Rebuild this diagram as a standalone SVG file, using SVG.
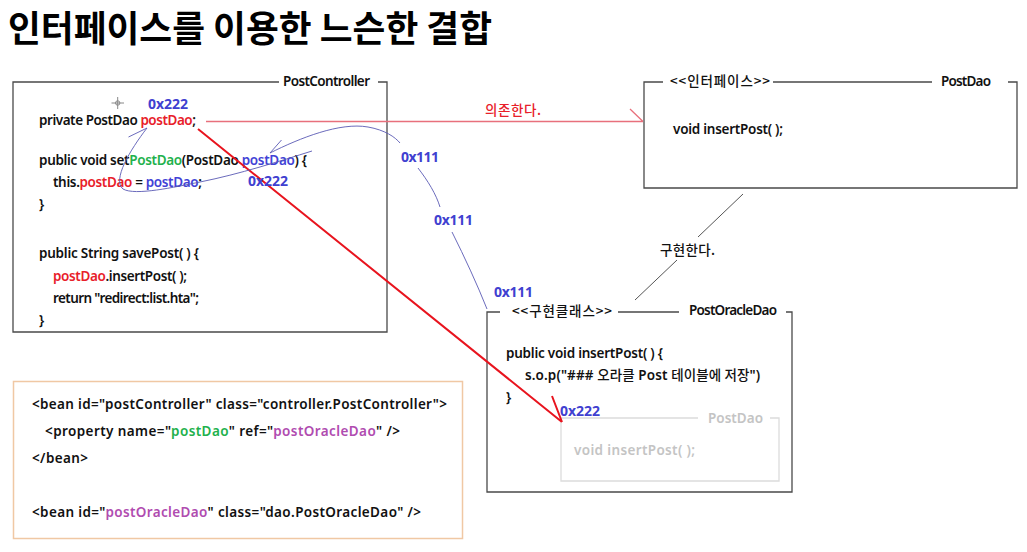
<svg xmlns="http://www.w3.org/2000/svg" width="1027" height="552" viewBox="0 0 1027 552">
<style>
  text { font-family: "Noto Sans", "Liberation Sans", "Noto Sans CJK KR", sans-serif; font-size: 13.5px; fill: #111; font-weight: 600; }
  .ko { font-family: "Noto Sans CJK KR", "Noto Sans", sans-serif; font-weight: 500; }
  .title { font-family: "Noto Sans CJK KR", sans-serif; font-size: 36px; font-weight: 700; fill: #000; }
  .red { fill: #e8202a; }
  .grn { fill: #22b14c; }
  .blu { fill: #4242d6; }
  .pur { fill: #b04cb0; }
  .lbl { fill: #4040d0; font-weight: 700; font-size: 14px; }
  .frame { fill: none; stroke: #4a4a4a; stroke-width: 1.3; }
  .ghost { fill: none; stroke: #dcdcdc; stroke-width: 1.3; }
  .gtext { fill: #c4c4c4; }
  .blue-curve { fill: none; stroke: #5a5ab4; stroke-width: 0.9; }
  .dep { fill: none; stroke: #e8707c; stroke-width: 1.3; }
  .inj { fill: none; stroke: #e8141e; stroke-width: 2; }
  .impl { fill: none; stroke: #555; stroke-width: 1; }
</style>

<g id="title">
  <text class="title" x="8" y="42" textLength="484" lengthAdjust="spacingAndGlyphs">인터페이스를 이용한 느슨한 결합</text>
</g>

<g id="node-postController">
  <path class="frame" d="M279,82 H13 V332 H387 V82 H378"/>
  <text x="283" y="86" textLength="87">PostController</text>
  <text x="39" y="125" textLength="157">private PostDao <tspan class="red">postDao</tspan>;</text>
  <text x="39" y="165" textLength="268">public void set<tspan class="grn">PostDao</tspan>(PostDao <tspan class="blu">postDao</tspan>) {</text>
  <text x="53" y="187" textLength="149"><tspan>this.</tspan><tspan class="red">postDao</tspan> = <tspan class="blu">postDao</tspan>;</text>
  <text x="39" y="209">}</text>
  <text x="39" y="258" textLength="160">public String savePost( ) {</text>
  <text x="53" y="281" textLength="134"><tspan class="red">postDao</tspan>.insertPost( );</text>
  <text x="53" y="303" textLength="146">return "redirect:list.hta";</text>
  <text x="39" y="325">}</text>
</g>

<g id="cursor">
  <path d="M111.5,103 H124 M117.7,97 V109" stroke="#888" stroke-width="1" fill="none"/>
  <circle cx="117.7" cy="103" r="2.2" fill="none" stroke="#888" stroke-width="1"/>
</g>

<g id="node-postDao">
  <path class="frame" d="M663,82 H644 V188 H1017 V82 H1008 M773,82 H932"/>
  <text class="ko" x="670" y="86" font-size="12.5" textLength="100">&lt;&lt;인터페이스&gt;&gt;</text>
  <text x="941" y="86" textLength="50">PostDao</text>
  <text x="673" y="134" textLength="110">void insertPost( );</text>
</g>

<g id="node-postOracleDao">
  <path class="frame" d="M500,312 H487 V492 H792 V312 H786 M618,312 H679"/>
  <text class="ko" x="512" y="316" font-size="12.5" textLength="100">&lt;&lt;구현클래스&gt;&gt;</text>
  <text x="689" y="315" textLength="88">PostOracleDao</text>
  <text x="506" y="358" textLength="157">public void insertPost( ) {</text>
  <text x="525" y="380" textLength="235">s.o.p("### <tspan class="ko">오라클</tspan> Post <tspan class="ko">테이블에 저장</tspan>")</text>
  <text x="506" y="402">}</text>
</g>

<g id="node-ghostPostDao">
  <path class="ghost" d="M698,418 H561 V481 H779 V418 H770"/>
  <text class="gtext" x="708" y="423" font-size="15" textLength="55">PostDao</text>
  <text class="gtext" x="574" y="455" font-size="14.5" textLength="121">void insertPost( );</text>
</g>

<g id="node-beans">
  <rect x="13.5" y="381.5" width="449" height="157" fill="none" stroke="#f0c8a4" stroke-width="1.5"/>
  <text x="32" y="409" textLength="415">&lt;bean id="postController" class="controller.PostController"&gt;</text>
  <text x="45" y="436" textLength="355">&lt;property name="<tspan class="grn">postDao</tspan>" ref="<tspan class="pur">postOracleDao</tspan>" /&gt;</text>
  <text x="32" y="463" textLength="56">&lt;/bean&gt;</text>
  <text x="32" y="517" textLength="389">&lt;bean id="<tspan class="pur">postOracleDao</tspan>" class="dao.PostOracleDao" /&gt;</text>
</g>

<g id="connectors">
  <path class="dep" d="M206,121.5 H643 M630,109 L643,121.5"/>
  <path class="impl" d="M743,194 L698,237 M677,260 L635,300"/>
  <path class="inj" d="M198,129 L562,422 M552,396 L562,422"/>
  <path class="blue-curve" d="M147,128 C130,150 112,180 123,189 C135,196 175,187 200,182 C240,174 280,161 312,151"/>
  <path class="blue-curve" d="M128.5,137 L147,128"/>
  <path class="blue-curve" d="M270,153 C300,138 340,122 368,127 C385,130 395,137 400,143"/>
  <path class="blue-curve" d="M281.5,140 L270,153"/>
  <path class="blue-curve" d="M418,168 C428,181 436,194 440,207"/>
  <path class="blue-curve" d="M452,232 C465,258 477,284 487,309"/>
</g>

<g id="labels">
  <text class="ko" x="485" y="115" font-size="13.5" style="fill:#e8202a" textLength="56">의존한다.</text>
  <text class="ko" x="660" y="255" font-size="13.5" textLength="55">구현한다.</text>
  <text class="lbl" x="148" y="109" textLength="40">0x222</text>
  <text class="lbl" x="248" y="186" textLength="40">0x222</text>
  <text class="lbl" x="401" y="162" textLength="38">0x111</text>
  <text class="lbl" x="434" y="225" textLength="39">0x111</text>
  <text class="lbl" x="494" y="297" textLength="39">0x111</text>
  <text class="lbl" x="560" y="416" textLength="40">0x222</text>
</g>
</svg>
